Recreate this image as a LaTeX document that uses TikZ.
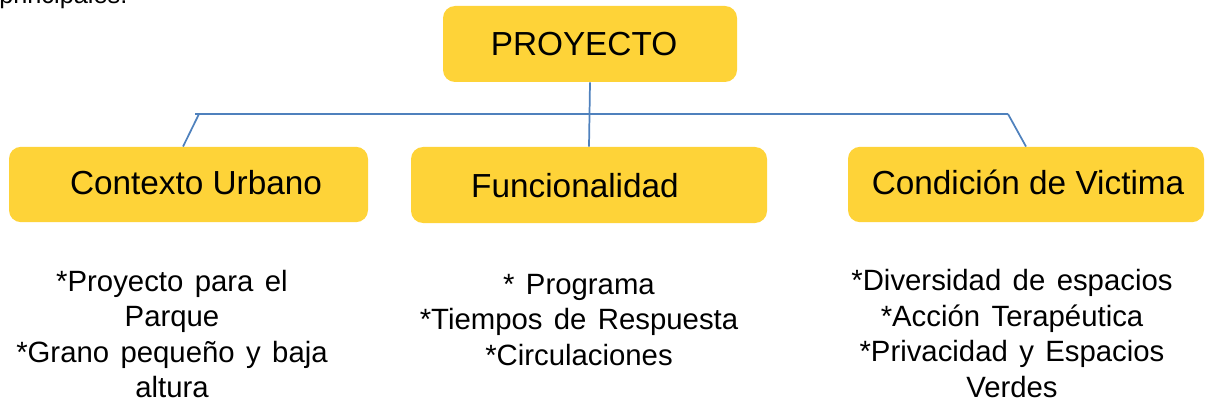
\documentclass[tikz,border=0pt]{standalone}
\usepackage{fontspec}
\setmainfont{Liberation Sans}
\newfontfamily\listfont{Liberation Sans}[WordSpace=1.4]
\definecolor{boxyellow}{RGB}{254,211,56}
\definecolor{lineblue}{RGB}{79,129,189}
\begin{document}
\begin{tikzpicture}[x=0.75pt,y=-0.75pt,
  box/.style={fill=boxyellow, draw=none, rounded corners=9pt, minimum height=56.5pt, inner sep=0pt},
  boxtext/.style={font=\fontsize{25}{30}\selectfont, inner sep=0pt, anchor=base},
  listtext/.style={font=\listfont\fontsize{22}{26.6}\selectfont, align=center, inner sep=0pt, anchor=center},
  conn/.style={draw=lineblue, line width=1.3pt}]
\path[use as bounding box, clip] (0,0) rectangle (1206,406);

% partially visible text from above
\node[font=\fontsize{19}{22}\selectfont, anchor=base west, inner sep=0pt] (prev) at (-1,4) {principales.};

% boxes
\node[box, minimum width=220.5pt, minimum height=57pt] (pr) at (590,44) {};
\node[boxtext] (prt) at (584,56) {PROYECTO};
\node[box, minimum width=269.25pt] (cu) at (188.5,184.5) {};
\node[boxtext] (cut) at (196,195) {Contexto Urbano};
\node[box, minimum width=267pt, minimum height=57pt] (fu) at (589,185) {};
\node[boxtext] (fut) at (575,197) {Funcionalidad};
\node[box, minimum width=267pt] (cv) at (1026,184.5) {};
\node[boxtext] (cvt) at (1028,195) {Condición de Victima};

% connectors
\coordinate (barL) at (195,114);
\coordinate (joinL) at (199,114);
\coordinate (barR) at (1008,114);
\draw[conn] (barL) -- (barR);
\draw[conn] (joinL) -- ([xshift=-4.1pt]cu.north);
\draw[conn] (barR) -- (cv.north);
\draw[conn] (pr.south) -- (fu.north);

% lists
\node[listtext] (l1) at (172,334) {*Proyecto para el\\Parque\\*Grano pequeño y baja\\altura};
\node[listtext] (l2) at (579,320) {* Programa\\*Tiempos de Respuesta\\*Circulaciones};
\node[listtext] (l3) at (1012,333.5) {*Diversidad de espacios\\*Acción Terapéutica\\*Privacidad y Espacios\\Verdes};
\end{tikzpicture}
\end{document}
